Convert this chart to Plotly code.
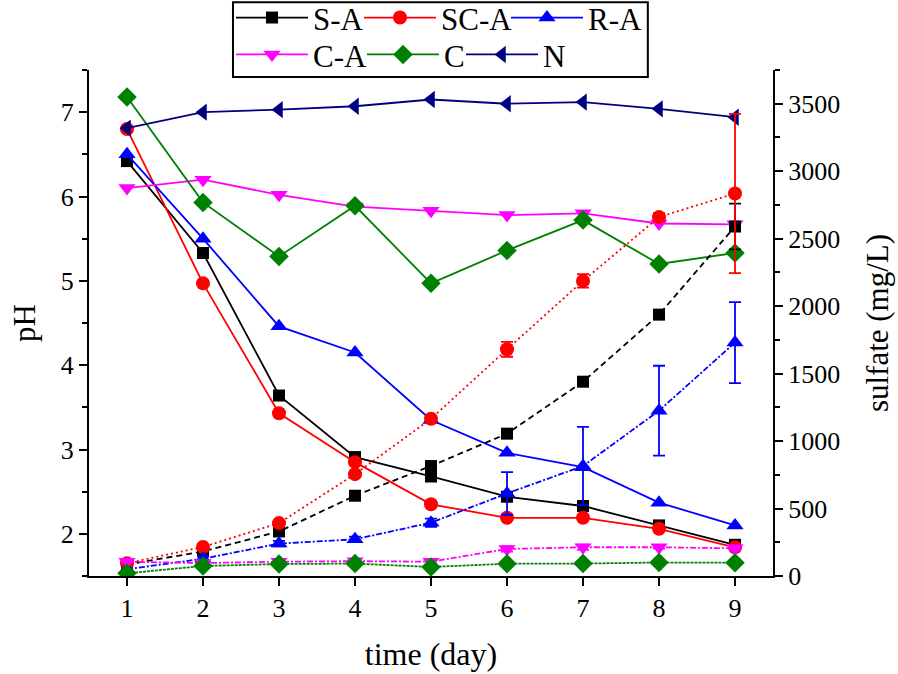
import plotly.graph_objects as go

days = [1, 2, 3, 4, 5, 6, 7, 8, 9]
names = ["S-A", "SC-A", "R-A", "C-A", "C", "N"]
colors = ["#000000", "#ff0000", "#0000ff", "#ff00ff", "#008000", "#000080"]
symbols = ["square", "circle", "triangle-up", "triangle-down", "diamond", "triangle-left"]
sizes = [12, 14, 15, 15, 15, 15]

# pH (left axis, solid lines)
ph_SA = [6.42, 5.33, 3.64, 2.91, 2.68, 2.44, 2.33, 2.10, 1.87]
ph_SCA = [6.80, 4.97, 3.43, 2.85, 2.35, 2.19, 2.19, 2.06, 1.84]
ph_RA = [6.50, 5.50, 4.46, 4.15, 3.35, 2.96, 2.79, 2.37, 2.10]
ph_CA = [6.10, 6.20, 6.02, 5.88, 5.83, 5.78, 5.80, 5.68, 5.67]
ph_C = [7.18, 5.93, 5.29, 5.89, 4.97, 5.36, 5.72, 5.20, 5.33]
ph_N = [6.81, 7.00, 7.03, 7.07, 7.15, 7.10, 7.12, 7.04, 6.94]

# sulfate (right axis, broken lines) with error bars
so4_SA = [85, 182, 330, 595, 815, 1055, 1440, 1937, 2590]
so4_SA_err = [5, 10, 10, 15, 20, 20, 20, 20, 170]
so4_SCA = [95, 215, 392, 755, 1165, 1680, 2187, 2660, 2835]
so4_SCA_err = [5, 10, 15, 20, 20, 55, 50, 30, 590]
so4_RA = [50, 128, 240, 272, 395, 612, 815, 1225, 1730]
so4_RA_err = [5, 20, 20, 20, 30, 158, 290, 333, 300]
so4_CA = [105, 96, 106, 110, 106, 200, 213, 213, 205]
so4_CA_err = [5, 5, 5, 5, 20, 20, 20, 10, 15]
so4_C = [20, 74, 89, 92, 67, 91, 92, 100, 99]
so4_C_err = [3, 5, 5, 5, 5, 5, 5, 5, 5]

ph_all = [ph_SA, ph_SCA, ph_RA, ph_CA, ph_C, ph_N]
so4_all = [so4_SA, so4_SCA, so4_RA, so4_CA, so4_C]
err_all = [so4_SA_err, so4_SCA_err, so4_RA_err, so4_CA_err, so4_C_err]
dashes = ["6px,4px", "2px,3px", "6px,2px,2px,2px", "6px,2px,2px,2px", "3px,1px"]

FONT = "Liberation Serif"
TICKFONT = dict(family=FONT, size=26, color="black")
TITLEFONT = dict(family=FONT, size=31, color="black")
LEGFONT = dict(family=FONT, size=31, color="black")

# legend slot positions (paper coords) for each entry
leg_x = [0.2076, 0.3947, 0.6096, 0.2076, 0.3991, 0.5439]
leg_y = [1.103, 1.103, 1.103, 1.030, 1.030, 1.030]

fig = go.Figure()

for i in range(5):
    fig.add_trace(go.Scatter(
        x=days, y=so4_all[i], yaxis="y2", mode="lines+markers",
        line=dict(color=colors[i], width=1.8, dash=dashes[i]),
        marker=dict(symbol=symbols[i], size=sizes[i], color=colors[i]),
        error_y=dict(type="data", array=err_all[i], visible=True,
                     color=colors[i], thickness=1.8, width=6),
        showlegend=False))

legend_layout = {}
for i in range(6):
    key = "legend" if i == 0 else f"legend{i + 1}"
    fig.add_trace(go.Scatter(
        x=days, y=ph_all[i], mode="lines+markers", name=names[i],
        line=dict(color=colors[i], width=1.8),
        marker=dict(symbol=symbols[i], size=sizes[i], color=colors[i]),
        legend=key))
    legend_layout[key] = dict(orientation="h", x=leg_x[i], xanchor="left",
                              y=leg_y[i], yanchor="middle", font=LEGFONT,
                              itemwidth=72, bgcolor="rgba(0,0,0,0)", borderwidth=0)

fig.update_layout(
    width=898, height=674,
    margin=dict(l=89, r=125, t=70, b=98, autoexpand=False),
    plot_bgcolor="white", paper_bgcolor="white",
    font=dict(family=FONT, color="black", size=26),
    xaxis=dict(range=[0.5, 9.5], tickvals=days,
               title=dict(text="time (day)", font=dict(family=FONT, size=32, color="black"),
                          standoff=20)),
    yaxis=dict(range=[1.5, 7.5], tickvals=[2, 3, 4, 5, 6, 7],
               minor=dict(dtick=0.5, ticks="outside", ticklen=5, tickwidth=2, tickcolor="black"),
               title=dict(text="pH", font=TITLEFONT, standoff=16)),
    yaxis2=dict(range=[0, 3750], overlaying="y", side="right",
                tickvals=[0, 500, 1000, 1500, 2000, 2500, 3000, 3500],
                minor=dict(dtick=250, ticks="outside", ticklen=5, tickwidth=2, tickcolor="black"),
                title=dict(text="sulfate (mg/L)", font=TITLEFONT, standoff=27)),
    shapes=[dict(type="rect", xref="paper", yref="paper",
                 x0=0.2105, x1=0.817, y0=0.986, y1=1.134,
                 line=dict(color="black", width=2), fillcolor="rgba(0,0,0,0)")],
    **legend_layout,
)

for upd in (fig.update_xaxes, fig.update_yaxes):
    upd(showline=True, linewidth=2, linecolor="black",
        ticks="outside", ticklen=8, tickwidth=2, tickcolor="black",
        showgrid=False, zeroline=False, tickfont=TICKFONT, automargin=False)

fig.write_html("out.html", config={"displayModeBar": False},
               post_script="document.body.style.margin='0';")
